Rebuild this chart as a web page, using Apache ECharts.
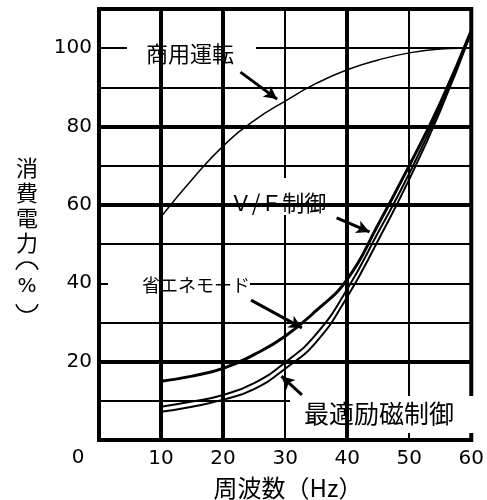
<!DOCTYPE html>
<html>
<head>
<meta charset="utf-8">
<script src="https://cdn.jsdelivr.net/npm/echarts@6/dist/echarts.min.js"></script>
<style>
  html, body { margin: 0; padding: 0; background: #fff; }
  #main { width: 487px; height: 500px; }
</style>
</head>
<body>
<div id="main"></div>
<script>
// 周波数 (Hz)
var freq = [10, 15, 20, 25, 30, 35, 40, 45, 50, 55, 60];
var commercialFreq = [10, 15, 20, 25, 30, 35, 40, 45, 50, 55, 58];
// 消費電力 (%)
var commercial = [57, 66.5, 75, 81.5, 86.5, 91, 94.5, 97, 98.8, 99.8, 100];
var ecoMode = [15.0, 16.3, 18.3, 21.8, 26.5, 33, 41, 55, 70, 86, 104.5];
var vfCtrl = [8.5, 9.8, 11.5, 14.5, 19.8, 27, 38.5, 53, 68, 85, 104.5];
var optExcite = [7.2, 8.5, 10.3, 13, 18.2, 25, 36.5, 51, 66.5, 84, 104];

// 太いグリッド線
var majorX = [10, 20, 40];
var majorY = [20, 60, 80];

// 矢印 [始点, 先端]
var arrows = [
  [[22.8, 93.9], [28.7, 87.0]],
  [[38.3, 56.7], [43.6, 53.1]],
  [[24.5, 35.7], [32.7, 28.6]],
  [[32.7, 11.5], [29.4, 16.3]]
];

function pairs(xs, ys) {
  return xs.map(function (x, i) { return [x, ys[i]]; });
}

var jp = '"Noto Sans CJK JP", sans-serif';
var num = '"DejaVu Sans", sans-serif';

var myChart = echarts.init(document.getElementById('main'));
var curve = function (name, xs, ys, w) {
  return {
    name: name,
    type: 'line',
    data: pairs(xs, ys),
    smooth: true,
    symbol: 'none',
    z: 4,
    lineStyle: { color: '#000', width: w }
  };
};

var txt = function (s, x, y, size, fam, lh) {
  var el = { type: 'text', z: 7, x: x, y: y,
    style: { text: s, x: 0, y: 0, align: 'center', verticalAlign: 'middle', font: size + 'px ' + fam, fill: '#000' } };
  if (lh) el.style.lineHeight = lh;
  return el;
};

// 縦書きの括弧 ︵ ︶
var paren = function (cy, a0, a1) {
  return { type: 'arc', z: 7, shape: { cx: 27, cy: cy, r: 11.6, startAngle: a0, endAngle: a1 },
    style: { fill: null, stroke: '#000', lineWidth: 1.6 } };
};

var option = {
  animation: false,
  backgroundColor: '#fff',
  grid: {
    left: 99, right: 14, top: 9, bottom: 60,
    show: true, borderColor: '#000', borderWidth: 4
  },
  xAxis: {
    type: 'value',
    min: 0, max: 60, interval: 10,
    axisLine: { show: false },
    axisTick: { show: false },
    axisLabel: {
      margin: 9, color: '#000', fontSize: 20, fontFamily: num,
      formatter: function (v) { return v === 0 ? '' : v; }
    },
    splitLine: { show: true, lineStyle: { color: '#000', width: 2 } }
  },
  yAxis: {
    type: 'value',
    min: 0, max: 110, interval: 10,
    axisLine: { show: false },
    axisTick: { show: false },
    axisLabel: {
      margin: 7, color: '#000', fontSize: 20, fontFamily: num,
      formatter: function (v) { return (v % 20 === 0 && v > 0 && v <= 100) ? v : ''; }
    },
    splitLine: { show: true, lineStyle: { color: '#000', width: 2 } }
  },
  series: [
    {
      type: 'line', data: [], z: 1, silent: true,
      markLine: {
        silent: true, symbol: 'none', animation: false,
        label: { show: false },
        lineStyle: { color: '#000', width: 4, type: 'solid' },
        data: majorX.map(function (v) { return { xAxis: v }; })
          .concat(majorY.map(function (v) { return { yAxis: v }; }))
      }
    },
    curve('商用運転', commercialFreq, commercial, 1.5),
    curve('省エネモード', freq, ecoMode, 3),
    curve('V/F制御', freq, vfCtrl, 2),
    curve('最適励磁制御', freq, optExcite, 2),
    {
      type: 'line', data: [], z: 6, silent: true,
      markLine: {
        silent: true, animation: false,
        symbol: ['none', 'arrow'], symbolSize: [10, 13],
        label: { show: false },
        lineStyle: { color: '#000', width: 3, type: 'solid' },
        data: arrows.map(function (a) {
          return [{ coord: a[0] }, { coord: a[1] }];
        })
      }
    }
  ],
  graphic: [
    { type: 'rect', shape: { x: 127, y: 33, width: 129, height: 39 }, style: { fill: '#fff' }, z: 5 },
    { type: 'rect', shape: { x: 200, y: 178, width: 152, height: 37 }, style: { fill: '#fff' }, z: 5 },
    { type: 'rect', shape: { x: 108, y: 267, width: 142, height: 38 }, style: { fill: '#fff' }, z: 5 },
    { type: 'rect', shape: { x: 290, y: 396, width: 185, height: 37 }, style: { fill: '#fff' }, z: 5 },
    txt('商用運転', 190, 54, 22, jp),
    txt('Ｖ/Ｆ制御', 278, 203, 22, jp),
    txt('省エネモード', 196, 285, 18, jp),
    txt('最適励磁制御', 379, 413, 25, jp),
    txt('0', 78, 458, 20, num),
    txt('周波数（Hz）', 288, 488, 24, jp),
    txt('消\n費\n電\n力', 27, 205, 22, jp, 25),
    paren(273.6, Math.PI * 1.105, Math.PI * 1.895),
    txt('%', 27, 287, 20, num),
    paren(300.4, Math.PI * 0.105, Math.PI * 0.895)
  ]
};

myChart.setOption(option);
</script>
</body>
</html>
